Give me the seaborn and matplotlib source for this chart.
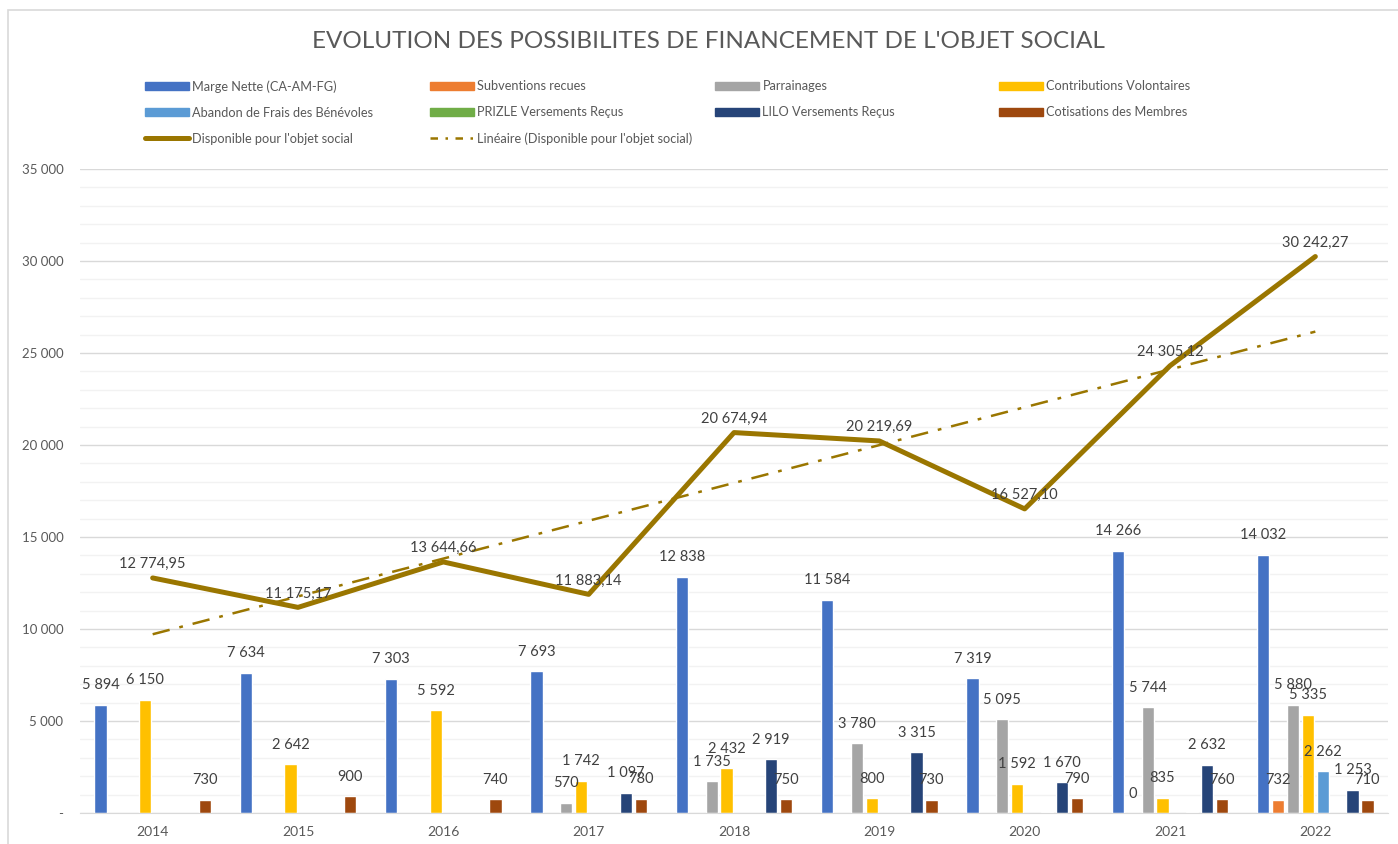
import numpy as np
import pandas as pd
import matplotlib
matplotlib.use("Agg")
import matplotlib.pyplot as plt
import matplotlib.patches as mpatches
from matplotlib.lines import Line2D
import seaborn as sns

# %%
years = ["2014", "2015", "2016", "2017", "2018", "2019", "2020", "2021", "2022"]

marge_nette = [5894, 7634, 7303, 7693, 12838, 11584, 7319, 14266, 14032]
subventions = [np.nan, np.nan, np.nan, np.nan, np.nan, np.nan, np.nan, 0, 732]
parrainages = [np.nan, np.nan, np.nan, 570, 1735, 3780, 5095, 5744, 5880]
contributions = [6150, 2642, 5592, 1742, 2432, 800, 1592, 835, 5335]
abandon_frais = [np.nan, np.nan, np.nan, np.nan, np.nan, np.nan, np.nan, np.nan, 2262]
prizle = [np.nan, np.nan, np.nan, np.nan, np.nan, np.nan, 61, 68, np.nan]
lilo = [np.nan, np.nan, np.nan, 1097, 2919, 3315, 1670, 2632, 1253]
cotisations = [730, 900, 740, 780, 750, 730, 790, 760, 710]

disponible = [12774.95, 11175.17, 13644.66, 11883.14, 20674.94,
              20219.69, 16527.10, 24305.12, 30242.27]

series_names = ["Marge Nette (CA-AM-FG)", "Subventions recues", "Parrainages",
                "Contributions Volontaires", "Abandon de Frais des Bénévoles",
                "PRIZLE Versements Reçus", "LILO Versements Reçus",
                "Cotisations des Membres"]
series_values = [marge_nette, subventions, parrainages, contributions,
                 abandon_frais, prizle, lilo, cotisations]
colors = ["#4472C4", "#ED7D31", "#A5A5A5", "#FFC000",
          "#5B9BD5", "#70AD47", "#264478", "#9E480E"]
line_color = "#9A7600"
text_color = "#595959"

# %%
rows = []
for name, vals in zip(series_names, series_values):
    for y, v in zip(years, vals):
        if not np.isnan(v):
            rows.append({"year": y, "serie": name, "value": v})
df = pd.DataFrame(rows)


def fr_int(v):
    return f"{v:,.0f}".replace(",", " ")


def fr_dec(v):
    return f"{v:,.2f}".replace(",", " ").replace(".", ",")


# %%
sns.set_style("white")
plt.rcParams["font.family"] = ["Lato", "DejaVu Sans"]

fig = plt.figure(figsize=(13.98, 8.44), dpi=100)
ax = fig.add_axes([80 / 1398, 1 - 813 / 844, 1308 / 1398, 644 / 844])

sns.barplot(data=df, x="year", y="value", hue="serie", order=years,
            hue_order=series_names, palette=colors, width=0.82, gap=0.18,
            saturation=1, ax=ax, legend=False)

for cont, name in zip(ax.containers, series_names):
    if name.startswith("PRIZLE"):
        continue
    labels = [fr_int(v) for v in cont.datavalues]
    ax.bar_label(cont, labels=labels, padding=9, fontsize=10.5, color="#404040")

# line + linear trend
x_pos = np.arange(len(years))
sns.lineplot(x=x_pos, y=disponible, color=line_color, linewidth=3.6,
             ax=ax, legend=False, solid_capstyle="round")
coef = np.polyfit(x_pos, disponible, 1)
ax.plot(x_pos, np.polyval(coef, x_pos), color=line_color, linewidth=1.8,
        dashes=(7, 4, 1.5, 4))
for xi, yi in zip(x_pos, disponible):
    ax.annotate(fr_dec(yi), (xi, yi), xytext=(0, 5), textcoords="offset points",
                ha="center", va="bottom", fontsize=10.5, color="#404040")

# axes
ax.set_xlim(-0.5, len(years) - 0.5)
ax.set_ylim(0, 35000)
ax.set_yticks(np.arange(0, 35001, 5000))
ax.set_yticklabels(["-"] + [fr_int(v) for v in np.arange(5000, 35001, 5000)])
ax.set_yticks(np.arange(0, 35001, 1000), minor=True)
ax.grid(axis="y", which="major", color="#D9D9D9", linewidth=1)
ax.grid(axis="y", which="minor", color="#F2F2F2", linewidth=1)
ax.set_axisbelow(True)
ax.tick_params(axis="y", which="both", length=0, pad=12, labelsize=9.5,
               labelcolor=text_color)

ax.set_xticks(np.arange(-0.5, len(years)), minor=False)
ax.set_xticklabels([])
ax.set_xticks(x_pos, minor=True)
ax.set_xticklabels(years, minor=True)
ax.tick_params(axis="x", which="major", length=6, color="#D9D9D9", direction="out")
ax.tick_params(axis="x", which="minor", length=0, pad=9, labelsize=10,
               labelcolor=text_color)
ax.set_xlabel("")
ax.set_ylabel("")
for s in ["top", "right", "left"]:
    ax.spines[s].set_visible(False)
ax.spines["bottom"].set_color("#D9D9D9")

# title
fig.text(708 / 1398, 1 - 42 / 844, "EVOLUTION DES POSSIBILITES DE FINANCEMENT DE L'OBJET SOCIAL",
         ha="center", va="center", fontsize=17.5, color=text_color)

# legend, row by row, four columns
bar_handles = [mpatches.Patch(color=c) for c in colors]
line_h = Line2D([], [], color=line_color, linewidth=3.6, solid_capstyle="round")
trend_h = Line2D([], [], color=line_color, linewidth=1.8, dashes=(3, 3, 1, 3))
columns = [
    ([bar_handles[0], bar_handles[4], line_h],
     [series_names[0], series_names[4], "Disponible pour l'objet social"]),
    ([bar_handles[1], bar_handles[5], trend_h],
     [series_names[1], series_names[5], "Linéaire (Disponible pour l'objet social)"]),
    ([bar_handles[2], bar_handles[6]], [series_names[2], series_names[6]]),
    ([bar_handles[3], bar_handles[7]], [series_names[3], series_names[7]]),
]
col_x = [140, 425, 710, 994]
for (hs, ls), cx in zip(columns, col_x):
    leg = fig.legend(hs, ls, loc="upper left", bbox_to_anchor=(cx / 1398, 1 - 75 / 844),
                     frameon=False, fontsize=9.2, labelcolor=text_color,
                     handlelength=3.4, handleheight=0.6, handletextpad=0.3,
                     labelspacing=1.1, borderaxespad=0)

# chart border
fig.patches.append(mpatches.Rectangle((8 / 1398, -0.1), 1.2, 1.1 - 10 / 844,
                                      transform=fig.transFigure, fill=False,
                                      edgecolor="#D9D9D9", linewidth=1.2))

fig.savefig("out.png", dpi=100)
